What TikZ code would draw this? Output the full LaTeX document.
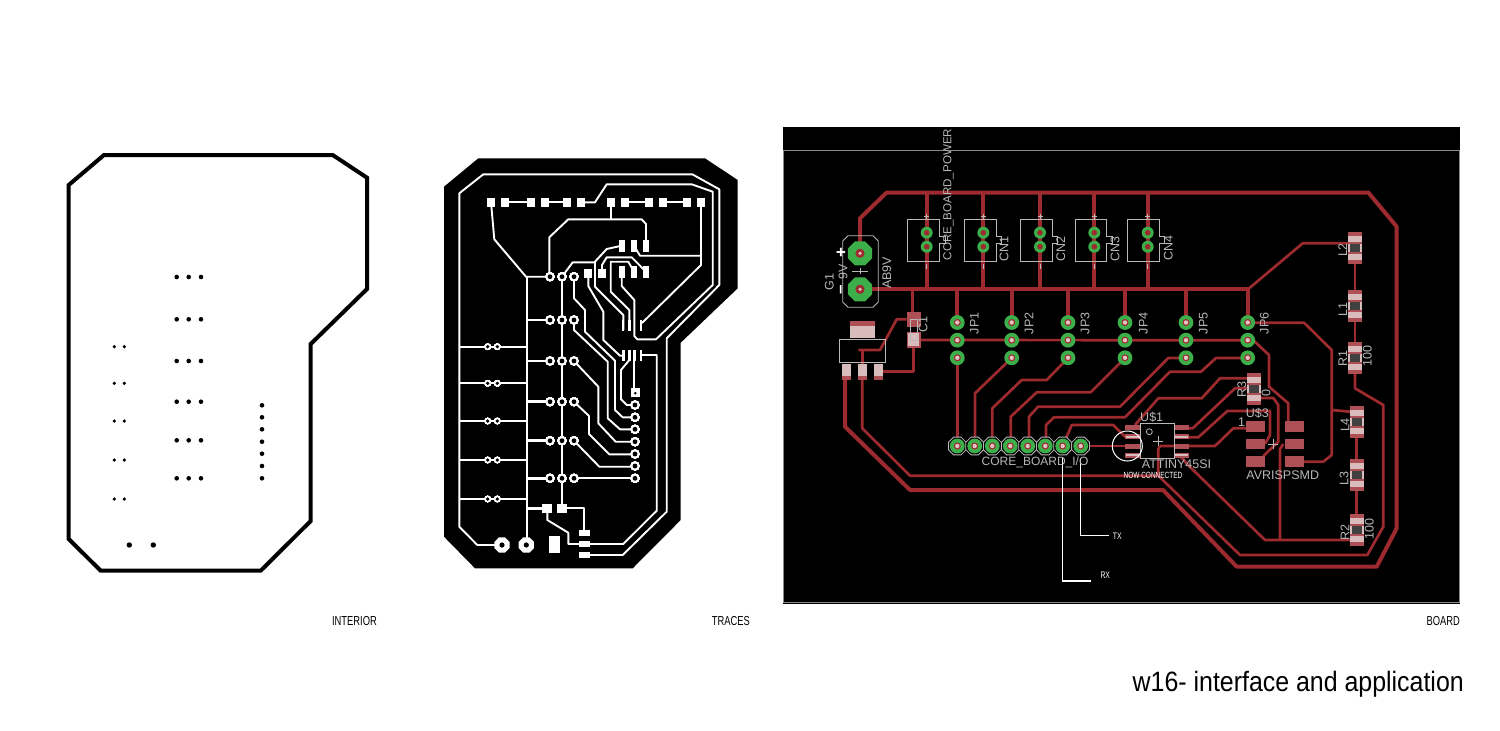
\documentclass[tikz,border=0pt]{standalone}
\usepackage{fontspec}
\usepackage{tikz}
\setmainfont{Liberation Sans}
\newfontfamily\capfont[FakeStretch=0.72]{Liberation Sans}
\newfontfamily\titlefont[FakeStretch=0.89]{Liberation Sans}
\definecolor{trackred}{HTML}{9C2A2E}
\definecolor{padgreen}{HTML}{3CAF4A}
\definecolor{padhatch}{HTML}{AE4F55}
\definecolor{padskin}{HTML}{D8BCBC}
\definecolor{padhole}{HTML}{E2C4C4}
\definecolor{silkgrey}{HTML}{B8B8B8}
\definecolor{framegrey}{HTML}{8A8A8A}
\newcommand{\ringpad}[2]{
    \fill [white] (#1,#2) circle (4.6);
    \fill [black] (#1,#2) circle (2.4);
}
\newcommand{\smallring}[2]{
    \fill [white] (#1,#2) circle (3.3);
    \fill [black] (#1,#2) circle (1.8);
}
\newcommand{\whitepad}[4]{
    \fill [white] (#1-#3/2,#2-#4/2) rectangle (#1+#3/2,#2+#4/2);
}
\newcommand{\greenpad}[2]{
    \fill [padgreen] (#1,#2) circle (7.4);
    \fill [trackred] (#1,#2) circle (3.5);
    \fill [padhole] (#1,#2) circle (2.2);
}
\newcommand{\cnpad}[2]{
    \fill [padgreen] (#1,#2) circle (6);
    \fill [trackred] (#1,#2) circle (2.8);
}
\newcommand{\hatchpad}[4]{
    \fill [padhatch] (#1-#3/2,#2-#4/2) rectangle (#1+#3/2,#2+#4/2);
}
\newcommand{\smdpart}[2]{
    \fill [padskin] (#1-7,#2-16) rectangle (#1+7,#2+16);
    \fill [padhatch] (#1-7,#2-16) rectangle (#1+7,#2-12);
    \fill [padhatch] (#1-7,#2+12) rectangle (#1+7,#2+16);
    \fill [padhatch] (#1-7,#2-6) rectangle (#1+7,#2-4);
    \fill [padhatch] (#1-7,#2+4) rectangle (#1+7,#2+6);
    \fill [black!75] (#1-5,#2-4) rectangle (#1+5,#2+4);
}
\begin{document}
\begin{tikzpicture}[x=1pt,y=-1pt]
    \tikzstyle{every node}+=[inner sep=0pt]
    \tikzstyle{outline}=[black, line width=4pt, line join=miter]
    \tikzstyle{trace}=[white, line width=1.9pt, line join=round]
    \tikzstyle{tracewide}=[white, line width=2.8pt, line join=round]
    \tikzstyle{track}=[trackred, line width=2.7pt, line join=round]
    \tikzstyle{trackwide}=[trackred, line width=4pt, line join=round]
    \tikzstyle{silk}=[silkgrey, line width=0.8pt]
    \tikzstyle{silktext}=[silkgrey, font=\fontsize{12.5}{12.5}\selectfont]
    \tikzstyle{captext}=[font=\capfont\fontsize{13}{13}\selectfont, anchor=base east]
    \useasboundingbox (0,0) rectangle (1500,731);
    \fill [white] (0,0) rectangle (1500,731);

    % interior
    \draw [outline] (104,155) -- (332.7,155) -- (367,177.7) -- (367,289) -- (310.7,344) -- (310.7,521) -- (260.7,570.7) -- (100.7,570.7) -- (68.7,539) -- (68.7,185) -- cycle;
    \foreach \y in {277,319.3,361,401.7,440.3,478.3} {
        \foreach \x in {176.7,188.7,201} \fill [black] (\x,\y) circle (2.3);
    }
    \foreach \y in {346.7,383.3,421,460,499} {
        \foreach \x in {114.3,124.3} \fill [black] (\x,\y) circle (1.8);
    }
    \foreach \y in {405.3,417.3,429.3,441.7,453.7,466,478.3} \fill [black] (262,\y) circle (2.3);
    \fill [black] (129.3,545) circle (2.7);
    \fill [black] (153.3,545) circle (2.7);
    \node [captext] (interiorlabel) at (377,625.5) {INTERIOR};

    % traces
    \fill [black] (478.3,158.3) -- (705,158.3) -- (737.7,180) -- (737.7,288.3) -- (680.7,342.7) -- (680.7,520) -- (632.7,568.3) -- (475,568.3) -- (444,536.7) -- (444,186.7) -- cycle;
    \draw [trace] (502,545) -- (477.3,545) -- (459.3,526.7) -- (459.3,193.3) -- (483.3,174.3) -- (692.3,174.3) -- (719.3,189.3) -- (719.3,285) -- (666.7,338.3) -- (666.7,511.7) -- (622.7,555) -- (584,555);
    \draw [trace] (504.7,202.3) -- (531,202.3);
    \draw [trace] (544.7,202.3) -- (567,202.3);
    \draw [trace] (625.3,202.3) -- (649,202.3);
    \draw [trace] (662.7,202.3) -- (687,202.3);
    \draw [trace] (581,202.3) -- (595,202.3) -- (606.7,184.3) -- (691.7,184.3) -- (712.7,191.7) -- (712.7,285) -- (656,339.3) -- (637.3,339.3) -- (634.3,336) -- (634.3,300) -- (621.7,286) -- (621.7,271.7);
    \draw [trace] (611.3,202.3) -- (611.3,219.3);
    \draw [trace] (549.3,276.7) -- (549.3,237.3) -- (568.3,219.3) -- (641.7,219.3) -- (646,224) -- (646,245.7);
    \draw [trace] (491,202.3) -- (494.3,239.3) -- (526,276.7) -- (550,276.7);
    \draw [tracewide] (527,276.7) -- (527,545);
    \draw [trace] (634,245.7) -- (640,255.7) -- (701,255.7);
    \draw [trace] (701,202.3) -- (701,265) -- (642,323);
    \draw [trace] (621.7,245.7) -- (606.7,249) -- (595,261.7) -- (595,286.7) -- (623.3,315) -- (623.3,330);
    \draw [trace] (562,276.7) -- (572.7,262.3) -- (595,262.3);
    \draw [trace] (602,273) -- (602,265) -- (606.7,257.3) -- (631.7,257.3) -- (646,271.7);
    \draw [trace] (634,271.7) -- (628.3,261.7) -- (610.7,261.7) -- (610.7,291.7) -- (629.3,310) -- (629.3,330);
    \draw [trace] (588.3,273) -- (588.3,286) -- (603.3,311.7) -- (603.3,340) -- (620,355.7) -- (623.3,355.7);
    \draw [trace] (640.7,355) -- (656.7,355) -- (656.7,510.7) -- (623.3,544) -- (584,544);
    \draw [trace] (629.3,360) -- (621,370) -- (621,399.3) -- (626.7,405) -- (635,405);
    \draw [trace] (634.3,350) -- (634.3,392);
    \draw [trace] (574,276.7) -- (574,298.3) -- (585,310) -- (585,331.7) -- (615,360.7) -- (615,410) -- (622.7,417.3) -- (635,417.3);
    \draw [trace] (574,320) -- (574,330) -- (607.7,361.7) -- (607.7,418.3) -- (620,429.3) -- (635,429.3);
    \draw [trace] (574,361) -- (598.3,386.7) -- (598.3,423.3) -- (615.7,441.7) -- (635,441.7);
    \draw [trace] (574,401.7) -- (589,416) -- (589,434) -- (609.3,454.3) -- (635,454.3);
    \draw [trace] (574,440.7) -- (599.3,466.7) -- (635,466.7);
    \draw [trace] (574,478.3) -- (635,478.3);
    \draw [trace] (562,276.7) -- (562,508);
    \foreach \y in {320,361,401.7,440.7,478.3} \draw [tracewide] (527,\y) -- (550,\y);
    \foreach \y in {346.7,383.3,421,460,499} \draw [trace] (459.3,\y) -- (527,\y);
    \draw [tracewide] (527,508.3) -- (547,508.3);
    \draw [trace] (547.3,508.3) -- (547.3,520) -- (568.3,532.7) -- (568.3,544) -- (584,544);
    \draw [trace] (562,508.3) -- (584,508.3) -- (584,532.7);
    \foreach \x in {491,504.7,531,544.7,567,581,611.3,625.3,649,662.7,687,701} \whitepad{\x}{202.3}{8}{9.3}
    \foreach \x in {621.7,634,646} {
        \whitepad{\x}{245.7}{6}{12}
        \whitepad{\x}{271.7}{6}{12}
    }
    \whitepad{588.3}{273}{8}{9}
    \whitepad{602}{273}{8}{9}
    \foreach \x in {622.7,629.3,640.7} {
        \whitepad{\x}{325}{2.4}{11}
    }
    \foreach \x in {623.3,629.3,634.3,640.7} {
        \whitepad{\x}{355.3}{2.4}{11}
    }
    \foreach \y in {276.7,320,361,401.7,440.7,478.3} {
        \foreach \x in {550,562,574} {\ringpad{\x}{\y}}
    }
    \foreach \y in {405,417.3,429.3,441.7,454,466,478.3} {\ringpad{635}{\y}}
    \foreach \y in {346.7,383.3,421,460,499} {
        \smallring{487.7}{\y}
        \smallring{497.3}{\y}
    }
    \whitepad{635.3}{392.7}{9}{9}
    \fill [black] (635.3,393.2) circle (1.4);
    \whitepad{547.3}{508.3}{10}{9}
    \whitepad{562}{508.3}{10}{9}
    \whitepad{584}{532.7}{11}{6}
    \whitepad{584}{544}{11}{6}
    \whitepad{584}{555}{11}{6}
    \whitepad{554.3}{544}{11}{17}
    \foreach \x in {502,526.3} {
        \fill [white] (\x,545) +(22.5:8.2) -- +(67.5:8.2) -- +(112.5:8.2) -- +(157.5:8.2) -- +(202.5:8.2) -- +(247.5:8.2) -- +(292.5:8.2) -- +(337.5:8.2) -- cycle;
        \fill [black] (\x,545) circle (2.6);
    }
    \node [captext] (traceslabel) at (750,625.5) {TRACES};

    % board
    \fill [black] (783,127) rectangle (1460,603.5);
    \draw [framegrey, line width=0.6pt] (783,150.5) -- (1460,150.5);
    \draw [framegrey, line width=0.6pt] (1459.5,150.5) -- (1459.5,603);
    \draw [framegrey, line width=0.6pt] (783,602.5) -- (1460,602.5);
    \draw [framegrey, line width=0.6pt] (783.5,150.5) -- (783.5,603);
    % outer tracks
    \draw [trackwide] (860,253.3) -- (860,218.3) -- (886.7,192.5) -- (1368.3,192.5) -- (1396.7,226.7) -- (1396.7,528.3) -- (1376.7,566.7) -- (1236.7,566.7) -- (1163,490) -- (910,490) -- (845,426.7) -- (845,378);
    \draw [track] (862.3,378) -- (862.3,428.3) -- (910,475.7) -- (1158.3,475.7) -- (1240,555) -- (1367.3,555) -- (1383.3,526.7) -- (1383.3,405) -- (1355,388.3) -- (1355,372);
    \foreach \x in {926.7,983.3,1040,1094.3,1147.7} \draw [trackwide] (\x,192.5) -- (\x,289);
    \draw [trackwide] (860,289) -- (1248.3,289);
    \draw [track] (1248.3,289) -- (1302.7,243.3) -- (1350,243.3);
    \foreach \x in {957.3,1011.7,1068,1125,1186,1247.7} \draw [trackwide] (\x,289) -- (\x,322.3);
    \draw [track] (912.7,289) -- (912.7,315);
    \draw [track] (920,340) -- (1253.3,340.3) -- (1269,355) -- (1269,386.7) -- (1288.3,403.3) -- (1288.3,421);
    \draw [track] (1255,322.7) -- (1304,322.7) -- (1331.7,350) -- (1331.7,455) -- (1323.3,461.7) -- (1303.3,461.7);
    \draw [track] (1331.7,410) -- (1350,411.7);
    % regulator wires
    \draw [track] (906.7,319.3) -- (896.7,319.3) -- (880,350) -- (858.3,350);
    \draw [track] (862.3,350) -- (862.3,364);
    \draw [track] (882.7,371.7) -- (913.3,371.7) -- (913.3,348);
    % connector wires
    \draw [track] (957.3,358) -- (957.3,446);
    \draw [track] (1011.7,358) -- (975,393.3) -- (975,446);
    \draw [track] (1068,358) -- (1046.7,380) -- (1021.7,380) -- (992.3,408.3) -- (992.3,446);
    \draw [track] (1125,358) -- (1090.7,392.3) -- (1036.7,392.3) -- (1010.7,416.7) -- (1010.7,446);
    \draw [track] (1186,358) -- (1168.3,358) -- (1120,406.7) -- (1038,406.7) -- (1029,416.7) -- (1029,446);
    \draw [track] (1247.7,358) -- (1216,358) -- (1201,371.7) -- (1170,371.7) -- (1125,417.3) -- (1054,417.3) -- (1046,425) -- (1046,446);
    \draw [track] (1248.3,378.3) -- (1220,378.3) -- (1201.7,398.3) -- (1158.3,398.3) -- (1135,425);
    \draw [track] (1062.7,446) -- (1071.7,425) -- (1113.3,425) -- (1125,436.7) -- (1132,436.7);
    \draw [track] (1080.7,446) -- (1136.7,446);
    \draw [track] (1160,446) -- (1158.3,449) -- (1158.3,475.7);
    \draw [track] (1160,446) -- (1215,446) -- (1233.3,428.3) -- (1246.7,428.3);
    \draw [track] (1180,428.3) -- (1192.7,428.3) -- (1235,388.3) -- (1248,388.3);
    \draw [track] (1180,437.3) -- (1198.3,437.3) -- (1227.3,411) -- (1270,411) -- (1270,435) -- (1265,444);
    \draw [track] (1255,398) -- (1273.3,398) -- (1278.3,405) -- (1278.3,441.7) -- (1263.3,456);
    \draw [track] (1283.3,444) -- (1280,449) -- (1280,540);
    \draw [track] (1180,456) -- (1190,467) -- (1265,540) -- (1350,540);
    \draw [track] (1355,263) -- (1355,290);
    \draw [track] (1355,322) -- (1355,342);
    \draw [track] (1356.7,438) -- (1356.7,459);
    \draw [track] (1356.7,491) -- (1356.7,514);
    % cn parts
    \foreach \x in {907.7,964.3,1020.3,1075,1127.3} {
        \draw [silk] (\x,219.3) -- (\x+31.7,219.3) -- (\x+31.7,236) -- (\x+37.4,236) -- (\x+37.4,243.3) -- (\x+31.7,243.3) -- (\x+31.7,261) -- (\x,261) -- cycle;
    }
    \foreach \x in {926.7,983.3,1040,1094.3,1147.7} {
        \cnpad{\x}{232.7}
        \cnpad{\x}{246.7}
        \draw [silk] (\x-2.5,216) -- (\x+2.5,216);
        \draw [silk] (\x,213.5) -- (\x,218.5);
        \draw [silk] (\x,264) -- (\x,269);
    }
    % jp parts
    \foreach \x in {957.3,1011.7,1068,1125,1186,1247.7} {
        \greenpad{\x}{322.5}
        \greenpad{\x}{340.2}
        \greenpad{\x}{357.8}
    }
    % core board pads
    \foreach \x in {957.3,974.7,992.3,1010.3,1027.7,1045.3,1062.7,1080.7} {
        \fill [black] (\x,446) +(22.5:9.6) -- +(67.5:9.6) -- +(112.5:9.6) -- +(157.5:9.6) -- +(202.5:9.6) -- +(247.5:9.6) -- +(292.5:9.6) -- +(337.5:9.6) -- cycle;
        \draw [silk] (\x,446) +(22.5:9.6) -- +(67.5:9.6) -- +(112.5:9.6) -- +(157.5:9.6) -- +(202.5:9.6) -- +(247.5:9.6) -- +(292.5:9.6) -- +(337.5:9.6) -- cycle;
    }
    \foreach \x in {957.3,974.7,992.3,1010.3,1027.7,1045.3,1062.7,1080.7} {\greenpad{\x}{446}}
    % battery holder
    \draw [silk] (848,235.7) -- (873,235.7) -- (878.3,241) -- (878.3,302) -- (873,307.3) -- (848,307.3) -- (842.7,302) -- (842.7,241) -- cycle;
    \draw [silk] (860,268) -- (860,274);
    \draw [silk] (852,271.5) -- (868,271.5);
    \foreach \y in {253.3,289.3} {
        \fill [padgreen] (860,\y) +(22.5:13) -- +(67.5:13) -- +(112.5:13) -- +(157.5:13) -- +(202.5:13) -- +(247.5:13) -- +(292.5:13) -- +(337.5:13) -- cycle;
        \fill [trackred] (860,\y) circle (4.6);
        \fill [padhole] (860,\y) circle (1.8);
    }
    % regulator
    \fill [padskin] (850,320.7) rectangle (875,338.3);
    \fill [padhatch] (850,320.7) rectangle (875,326);
    \foreach \x in {841.7,857.7,874} {
        \fill [padskin] (\x,364) rectangle (\x+9,380);
        \fill [padhatch] (\x,376) rectangle (\x+9,380);
    }
    \draw [silk, line width=1pt] (839.3,339) rectangle (885.7,362.3);
    % c1
    \hatchpad{913.7}{319.8}{14}{15}
    \hatchpad{913.7}{340}{14}{16.6}
    \fill [padskin] (908,333) rectangle (919,346);
    \draw [silk] (910,319) rectangle (917.3,340);
    % us3 pads
    \foreach \x in {1255.7,1294} {
        \hatchpad{\x}{426.7}{19}{10.7}
        \hatchpad{\x}{444}{19}{10.7}
        \hatchpad{\x}{461.7}{19}{10.7}
    }
    \draw [silk] (1268.3,444) -- (1278.3,444);
    \draw [silk] (1273.3,439) -- (1273.3,449);
    % u1
    \foreach \y in {427.7,436.7,446,455} {
        \hatchpad{1132.5}{\y}{15}{5}
        \hatchpad{1181}{\y}{15}{5}
    }
    \foreach \y in {436.7,455} {
        \fill [padskin] (1126,\y-1) rectangle (1139,\y+1);
        \fill [padskin] (1175,\y-1) rectangle (1188,\y+1);
    }
    \draw [silk] (1140,423.3) rectangle (1174,458.3);
    \draw [silk] (1149.3,431.7) circle (3);
    \draw [silk] (1153.3,441) -- (1163.3,441);
    \draw [silk] (1158.3,436) -- (1158.3,446);
    \draw [white, line width=1pt] (1127.3,446) circle (15);
    % smd parts
    \smdpart{1355.3}{247.5}
    \smdpart{1355.3}{306}
    \smdpart{1355.3}{358}
    \smdpart{1356.7}{422}
    \smdpart{1356.7}{475}
    \smdpart{1356.7}{529.7}
    \smdpart{1254}{388.8}
    % leads
    \draw [white, line width=1.5pt] (1080.7,458) -- (1080.7,535.7) -- (1109.3,535.7);
    \draw [white, line width=1.5pt] (1062.3,458) -- (1062.3,581) -- (1091,581);
    % texts
    \node [silktext, font=\fontsize{11.6}{11.6}\selectfont, rotate=90, anchor=west] (corepowerlabel) at (948.5,260.5) {CORE\_BOARD\_POWER};
    \node [silktext, rotate=90] (cnone) at (1004,249) {CN1};
    \node [silktext, rotate=90] (cntwo) at (1060.7,249) {CN2};
    \node [silktext, rotate=90] (cnthree) at (1115,249) {CN3};
    \node [silktext, rotate=90] (cnfour) at (1168.3,248.3) {CN4};
    \node [silktext, rotate=90] (jpone) at (974.3,323.3) {JP1};
    \node [silktext, rotate=90] (jptwo) at (1029,323.3) {JP2};
    \node [silktext, rotate=90] (jpthree) at (1085,323.3) {JP3};
    \node [silktext, rotate=90] (jpfour) at (1143.3,323.3) {JP4};
    \node [silktext, rotate=90] (jpfive) at (1203.3,323.3) {JP5};
    \node [silktext, rotate=90] (jpsix) at (1264.3,323.3) {JP6};
    \node [silktext, rotate=90] (gonelabel) at (829.3,281.7) {G1};
    \node [silktext, rotate=90] (ninevlabel) at (843,271.7) {9V};
    \node [silktext, rotate=90] (abninelabel) at (886.7,273) {AB9V};
    \node [white, font=\bfseries\fontsize{17}{17}\selectfont, rotate=90] (pluslabel) at (841.7,253) {+};
    \node [white, font=\bfseries\fontsize{17}{17}\selectfont, rotate=90] (minuslabel) at (842.7,290) {--};
    \node [silktext, rotate=90] (conelabel) at (923,325) {C1};
    \node [silktext, rotate=90] (ltwolabel) at (1342.7,250) {L2};
    \node [silktext, rotate=90] (lonelabel) at (1342.7,309.3) {L1};
    \node [silktext, rotate=90] (ronelabel) at (1342.7,358.3) {R1};
    \node [silktext, rotate=90] (ronevalue) at (1367.3,356) {100};
    \node [silktext, rotate=90] (lfourlabel) at (1345,425) {L4};
    \node [silktext, rotate=90] (lthreelabel) at (1344,478.3) {L3};
    \node [silktext, rotate=90] (rtwolabel) at (1345,532.3) {R2};
    \node [silktext, rotate=90] (rtwovalue) at (1369.3,529.3) {100};
    \node [silktext, rotate=90] (rthreelabel) at (1241.7,390) {R3};
    \node [silktext, rotate=90] (rthreevalue) at (1266,393.3) {0};
    \node [silktext] (uonelabel) at (1151.7,417) {U\$1};
    \node [silktext] (tinylabel) at (1176.5,464.5) {ATTINY45SI};
    \node [silktext] (usthreelabel) at (1257.3,413.3) {U\$3};
    \node [silktext] (pinonelabel) at (1241.7,422.3) {1};
    \node [silktext] (avrlabel) at (1282.7,475) {AVRISPSMD};
    \node [silktext, font=\fontsize{12}{12}\selectfont] (coreiolabel) at (1035,462.7) {CORE\_BOARD\_I/O};
    \node [white, font=\capfont\fontsize{9}{9}\selectfont] (nowlabel) at (1153,475) {NOW CONNECTED};
    \node [white, font=\capfont\fontsize{9.5}{9.5}\selectfont] (txlabel) at (1117.3,536.7) {TX};
    \node [white, font=\capfont\fontsize{9.5}{9.5}\selectfont] (rxlabel) at (1105.3,575.7) {RX};
    \node [captext] (boardlabel) at (1460,625.5) {BOARD};
    \node [font=\titlefont\fontsize{28}{28}\selectfont, anchor=base east] (titlelabel) at (1464,691.5) {w16- interface and application};
\end{tikzpicture}
\end{document}
